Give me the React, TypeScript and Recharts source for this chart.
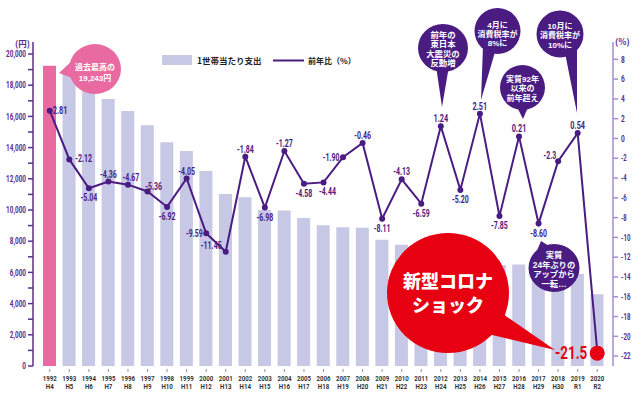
import { ComposedChart, Bar, Line, XAxis, YAxis, Cell } from 'recharts';

const YEARS = ['1992', '1993', '1994', '1995', '1996', '1997', '1998', '1999', '2000', '2001', '2002', '2003', '2004', '2005', '2006', '2007', '2008', '2009', '2010', '2011', '2012', '2013', '2014', '2015', '2016', '2017', '2018', '2019', '2020'];
const ERAS = ['H4', 'H5', 'H6', 'H7', 'H8', 'H9', 'H10', 'H11', 'H12', 'H13', 'H14', 'H15', 'H16', 'H17', 'H18', 'H19', 'H20', 'H21', 'H22', 'H23', 'H24', 'H25', 'H26', 'H27', 'H28', 'H29', 'H30', 'R1', 'R2'];
// 1世帯当たり支出（円）
const SPENDING = [19243, 18800, 17900, 17120, 16350, 15430, 14340, 13780, 12500, 11030, 10810, 10000, 9960, 9490, 9020, 8890, 8870, 8100, 7780, 7200, 7300, 6900, 7050, 6470, 6500, 6000, 5870, 5900, 4600];
// 前年比（%）
const YOY_TEXT = ['2.81', '-2.12', '-5.04', '-4.36', '-4.67', '-5.36', '-6.92', '-4.05', '-9.59', '-11.45', '-1.84', '-6.98', '-1.27', '-4.58', '-4.44', '-1.90', '-0.46', '-8.11', '-4.13', '-6.59', '1.24', '-5.20', '2.51', '-7.85', '0.21', '-8.60', '-2.3', '0.54', '-21.5'];
const YOY = YOY_TEXT.map(Number);

const LEFT_TICKS = [0, 1000, 2000, 3000, 4000, 5000, 6000, 7000, 8000, 9000, 10000, 11000, 12000, 13000, 14000, 15000, 16000, 17000, 18000, 19000, 20000];
const RIGHT_TICKS = [-22, -20, -18, -16, -14, -12, -10, -8, -6, -4, -2, 0, 2, 4, 6, 8];

// where each yoy label sits relative to its point
const PLACE = ['r', 'r6', 'b', 't', 't3', 'tr', 'b', 't', 'l', 'tl', 't', 'b', 't', 'b', 'b4', 'l', 't', 'b', 't', 'b', 't', 'b', 't', 'b', 't', 'b', 'tl2', 't', 'big'];

const data = YEARS.map((year, i) => ({ year, spending: SPENDING[i], yoy: YOY[i] }));

const PURPLE = '#4a1c82';
const AXIS_PURPLE = '#5a2d90';
const AXIS_LIGHT = '#a58fd2';
const BAR = '#c7c7e6';
const PINK = '#e96aa1';
const RED = '#e60012';
const SANS = 'Roboto, sans-serif';
const JP = '"Noto Sans CJK JP", sans-serif';
const BUBBLE_FONT = '"Liberation Sans", "Noto Sans CJK JP", sans-serif';

// rough Roboto Bold advance widths (em)
const W: Record<string, number> = { '.': 0.27, ',': 0.22, '-': 0.28, H: 0.7, R: 0.63 };
const textWidth = (s: string, size: number) =>
  s.split('').reduce((a, c) => a + (W[c] ?? 0.562), 0) * size;

// condensed text: Roboto squeezed to a narrower length
function NText({ x, y, anchor = 'start', size, fill, squeeze = 0.76, weight = 700, children }: any) {
  const s = String(children);
  return (
    <text
      x={x}
      y={y}
      textAnchor={anchor}
      fontSize={size}
      fontWeight={weight}
      fill={fill}
      fontFamily={SANS}
      textLength={textWidth(s, size) * squeeze}
      lengthAdjust="spacingAndGlyphs"
    >
      {s}
    </text>
  );
}

const OFFSETS: Record<string, [string, number, number]> = {
  t: ['middle', 0, -4],
  t3: ['middle', 3, -4],
  b: ['middle', 0, 13],
  b4: ['middle', 4, 13],
  r: ['start', 3, 3.5],
  r6: ['start', 6, 3],
  tr: ['middle', 6, -1],
  l: ['end', -3.5, 3.5],
  tl: ['end', -4, -2.5],
  tl2: ['end', -2, -2],
};

function renderDot(props: any) {
  const { cx, cy, index } = props;
  const place = PLACE[index];
  if (place === 'big') {
    return (
      <g key={`d-${index}`}>
        <circle cx={cx} cy={cy + 2} r={7.5} fill={RED} />
        <NText x={cx - 10} y={cy + 8} anchor="end" size={18} fill={RED} squeeze={0.8}>
          {YOY_TEXT[index]}
        </NText>
      </g>
    );
  }
  const [anchor, dx, dy] = OFFSETS[place];
  return (
    <g key={`d-${index}`}>
      <circle cx={cx} cy={cy} r={3} fill={PURPLE} />
      <NText x={cx + dx} y={cy + dy} anchor={anchor} size={10} fill={PURPLE} squeeze={0.75}>
        {YOY_TEXT[index]}
      </NText>
    </g>
  );
}

function YearTick(props: any) {
  const { x, y, payload } = props;
  const i = YEARS.indexOf(payload.value);
  return (
    <g>
      <line x1={x} x2={x} y1={y + 3} y2={y + 6} stroke="#777" strokeWidth={0.8} />
      <NText x={x} y={y + 15} anchor="middle" size={8} fill="#333" squeeze={0.78}>
        {payload.value}
      </NText>
      <NText x={x} y={y + 22.5} anchor="middle" size={8} fill="#333" squeeze={0.78}>
        {ERAS[i]}
      </NText>
    </g>
  );
}

function LeftTick(props: any) {
  const { x, y, payload } = props;
  if (payload.value % 2000 !== 0) return <g />;
  return (
    <NText x={x} y={y + 3.2} anchor="end" size={9} fill={AXIS_PURPLE} squeeze={0.73}>
      {payload.value.toLocaleString('en-US')}
    </NText>
  );
}

function RightTick(props: any) {
  const { x, y, payload } = props;
  return (
    <NText x={x} y={y + 3.2} anchor="start" size={9} fill={AXIS_PURPLE} squeeze={0.75}>
      {String(payload.value)}
    </NText>
  );
}

// speech bubble: ellipse + tail, white lines of text inside
function Bubble({ cx, cy, rx, ry, tail, fill, lines, size, first, gap, weight = 700 }: any) {
  return (
    <g>
      <polygon points={tail} fill={fill} />
      <ellipse cx={cx} cy={cy} rx={rx} ry={ry} fill={fill} />
      {lines.map((t: string, i: number) => (
        <text key={i} x={cx} y={first + i * gap} textAnchor="middle" fontSize={size} fontWeight={weight} fill="#fff" fontFamily={BUBBLE_FONT}>
          {t}
        </text>
      ))}
    </g>
  );
}

export default function App() {
  return (
    <div style={{ position: 'absolute', left: 0, top: 0, width: 640, height: 395, background: '#fff' }}>
      <ComposedChart width={640} height={395} data={data} margin={{ top: 42, right: 0, bottom: 0, left: 0 }}>
        <XAxis
          dataKey="year"
          height={29}
          padding={{ left: 7, right: 6 }}
          axisLine={false}
          tickLine={false}
          tickSize={0}
          tickMargin={0}
          interval={0}
          tick={<YearTick />}
        />
        <YAxis
          yAxisId="l"
          width={33}
          domain={[0, 20769]}
          ticks={LEFT_TICKS}
          allowDataOverflow
          interval={0}
          stroke={AXIS_PURPLE}
          strokeWidth={1.5}
          tickSize={5}
          tickMargin={2}
          tick={<LeftTick />}
        />
        <YAxis
          yAxisId="r"
          orientation="right"
          width={27}
          domain={[-23, 9.75]}
          ticks={RIGHT_TICKS}
          allowDataOverflow
          interval={0}
          stroke={AXIS_LIGHT}
          strokeWidth={1.5}
          tickSize={5}
          tickMargin={3}
          tick={<RightTick />}
        />
        <Bar dataKey="spending" yAxisId="l" barSize={13} isAnimationActive={false}>
          {data.map((d, i) => (
            <Cell key={d.year} fill={i === 0 ? PINK : BAR} />
          ))}
        </Bar>
        <Line
          dataKey="yoy"
          yAxisId="r"
          stroke={PURPLE}
          strokeWidth={2}
          dot={renderDot}
          activeDot={false}
          isAnimationActive={false}
        />
      </ComposedChart>

      <svg width={640} height={395} style={{ position: 'absolute', left: 0, top: 0, pointerEvents: 'none' }}>
        <text x={15} y={47} fontSize={8.5} fontWeight={700} fill={AXIS_PURPLE} fontFamily={JP}>(円)</text>
        <text x={615} y={45} fontSize={8.5} fontWeight={700} fill={AXIS_PURPLE} fontFamily={JP}>(%)</text>

        {/* legend */}
        <rect x={162} y={55} width={30} height={10} fill={BAR} />
        <text x={197} y={64} fontSize={8.5} fontWeight={700} fill="#222" fontFamily={JP}>1世帯当たり支出</text>
        <line x1={273} x2={304} y1={60.5} y2={60.5} stroke={PURPLE} strokeWidth={2} />
        <text x={308} y={64} fontSize={8} fontWeight={700} fill="#222" fontFamily={JP}>前年比（%）</text>

        <Bubble cx={95} cy={69} rx={26} ry={25} tail="59,73 73,60 75,79" fill={PINK} lines={['過去最高の', '19,243円']} size={8} first={69.5} gap={11.5} />
        <Bubble cx={443} cy={48} rx={25} ry={24} tail="436,66 449,66 442,107" fill={PURPLE} lines={['前年の', '東日本', '大震災の', '反動増']} size={8.4} first={37.5} gap={9.5} />
        <Bubble cx={497.5} cy={31} rx={23} ry={23} tail="483,46 495,52 481,100" fill={PURPLE} lines={['4月に', '消費税率が', '8%に']} size={8} first={28} gap={9.2} />
        <Bubble cx={522.5} cy={87.5} rx={22.5} ry={22.5} tail="516,105 529,105 523,119" fill={PURPLE} lines={['実質92年', '以来の', '前年超え']} size={8} first={82.3} gap={9.1} />
        <Bubble cx={560} cy={34} rx={23.5} ry={23.5} tail="565,53 577,48 577,113" fill={PURPLE} lines={['10月に', '消費税率が', '10%に']} size={8} first={29} gap={9.3} />
        <Bubble cx={554} cy={268} rx={25.5} ry={24} tail="541,241 536,253 549,246" fill={PURPLE} lines={['実質', '24年ぶりの', 'アップから', '一転…']} size={8.3} first={258} gap={9.6} />
        <Bubble cx={448} cy={293} rx={61} ry={60} tail="500,312 488,334 555,350" fill={RED} lines={['新型コロナ', 'ショック']} size={18} first={288} gap={23.5} weight={900} />
      </svg>
    </div>
  );
}
